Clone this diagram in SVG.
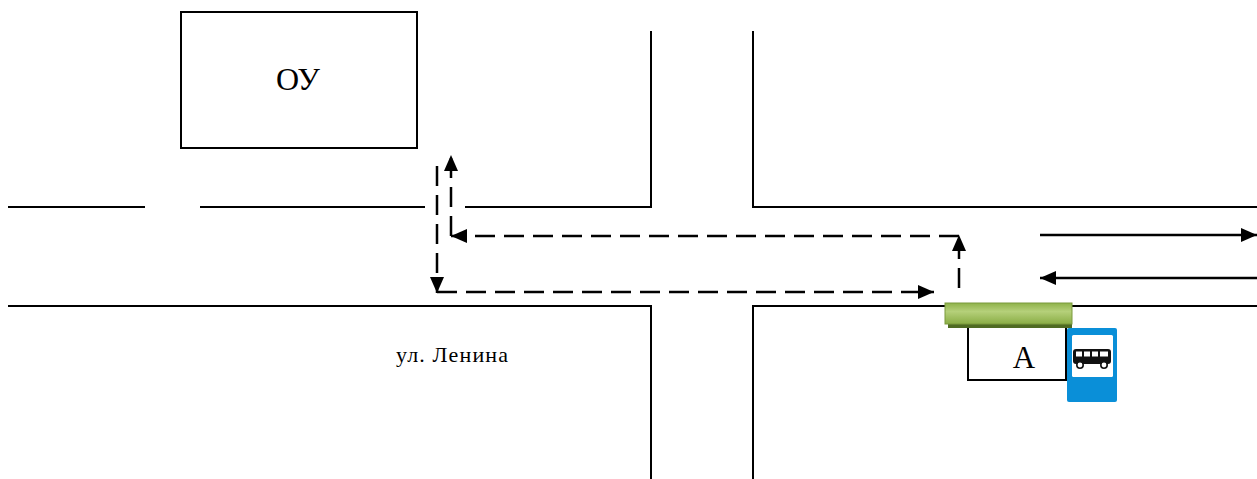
<svg xmlns="http://www.w3.org/2000/svg" width="1257" height="479" viewBox="0 0 1257 479">
<style>
.road{fill:none;stroke:#000;stroke-width:2}
.dash{fill:none;stroke:#000;stroke-width:2.5;stroke-dasharray:20 9}
.solid{fill:none;stroke:#000;stroke-width:2.5}
text{fill:#000}
</style>
<defs>
<marker id="ah" viewBox="0 0 16 14" refX="16" refY="7" markerWidth="16" markerHeight="14" markerUnits="userSpaceOnUse" orient="auto">
<path d="M0,0 L16,7 L0,14 Z" fill="#000"/>
</marker>
<linearGradient id="gbar" x1="0" y1="0" x2="0" y2="1">
<stop offset="0" stop-color="#8fb24a"/>
<stop offset="0.4" stop-color="#b5d07a"/>
<stop offset="1" stop-color="#8aad45"/>
</linearGradient>
</defs>
<g id="roads">
<path class="road" d="M8,207 H145"/>
<path class="road" d="M200,207 H425"/>
<path class="road" d="M465,207 H651 V31"/>
<path class="road" d="M753,31 V207 H1257"/>
<path class="road" d="M8,306 H651 V479"/>
<path class="road" d="M753,479 V306 H1257"/>
</g>
<g id="school">
<rect x="181" y="12" width="236" height="136" fill="#fff" stroke="#000" stroke-width="2"/>
<text x="298" y="90" font-family="'Liberation Serif', 'DejaVu Serif', serif" font-size="32" text-anchor="middle">ОУ</text>
</g>
<g id="street-label">
<text x="396" y="362" font-family="'Liberation Serif', 'DejaVu Serif', serif" font-size="22" textLength="112" lengthAdjust="spacing">ул. Ленина</text>
</g>
<g id="stop-box">
<path d="M968,326 V380 H1066 V326" fill="#fff" stroke="#000" stroke-width="2"/>
<text x="1024" y="368" font-family="'Liberation Serif', 'DejaVu Serif', serif" font-size="31" text-anchor="middle">А</text>
</g>
<g id="platform">
<rect x="948" y="318" width="124" height="10" fill="#4f6b22"/>
<rect x="945" y="303" width="127" height="21" fill="url(#gbar)" stroke="#7a9a3c" stroke-width="1"/>
</g>
<g id="bus-sign">
<rect x="1067" y="328" width="50" height="74" rx="2" fill="#0a8fd8"/>
<rect x="1072" y="335" width="41" height="42" rx="1.5" fill="#fff"/>
<rect x="1073" y="349" width="38" height="15" rx="3" fill="#111"/>
<rect x="1076" y="351.5" width="6" height="5" fill="#fff"/>
<rect x="1084" y="351.5" width="6" height="5" fill="#fff"/>
<rect x="1092" y="351.5" width="6" height="5" fill="#fff"/>
<rect x="1100" y="351.5" width="8" height="5" fill="#fff"/>
<circle cx="1080" cy="365" r="3.2" fill="#fff" stroke="#111" stroke-width="1.6"/>
<circle cx="1104" cy="365" r="3.2" fill="#fff" stroke="#111" stroke-width="1.6"/>
</g>
<g id="connectors">
<path class="dash" d="M437,166 V293" marker-end="url(#ah)"/>
<path class="dash" d="M437,292 H934" marker-end="url(#ah)"/>
<path class="dash" d="M959,288 V235" marker-end="url(#ah)"/>
<path class="dash" d="M959,236 H451" marker-end="url(#ah)"/>
<path class="dash" d="M451,236 V155" marker-end="url(#ah)"/>
<path class="solid" d="M1040,235 H1257" marker-end="url(#ah)"/>
<path class="solid" d="M1257,278 H1040" marker-end="url(#ah)"/>
</g>
</svg>
